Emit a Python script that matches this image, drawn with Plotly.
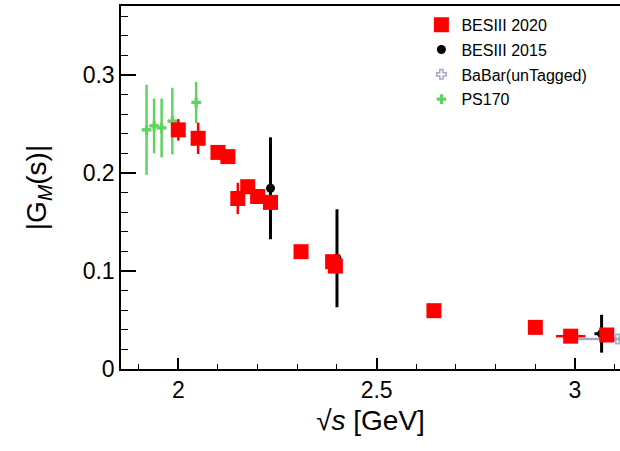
import plotly.graph_objects as go

# BESIII 2020
bes20_x = [2.0000, 2.0500, 2.1000, 2.1250, 2.1500, 2.1750, 2.2000, 2.2324, 2.3094, 2.3890, 2.3960, 2.6444, 2.9000, 2.9890, 3.0800]
bes20_y = [0.244, 0.2354, 0.221, 0.2167, 0.174, 0.186, 0.176, 0.170, 0.1197, 0.1095, 0.105, 0.0595, 0.0425, 0.0335, 0.0347]
bes20_ey = [0.011, 0.016, 0.006, 0.006, 0.016, 0.007, 0.006, 0.006, 0.005, 0.006, 0.006, 0.003, 0.003, 0.003, 0.003]
bes20_ex = [0, 0, 0, 0, 0, 0, 0, 0, 0, 0, 0, 0, 0, 0.037, 0]

# BESIII 2015
bes15_x = [2.2324, 2.4000, 3.0670]
bes15_y = [0.1844, 0.1130, 0.0360]
bes15_ey = [0.052, 0.050, 0.0193]
bes15_ex = [0, 0, 0.018]

# BaBar (untagged)
babar_x = [3.107]
babar_y = [0.0306]
babar_ex = [0.100]

# PS170
ps_x = [1.920, 1.939, 1.958, 1.985, 2.045]
ps_y = [0.244, 0.248, 0.246, 0.253, 0.272]
ps_ey = [0.046, 0.028, 0.030, 0.034, 0.021]
ps_ex = [0.010, 0.010, 0.010, 0.010, 0.010]

FONT = "Liberation Sans, Arial, sans-serif"

fig = go.Figure()

fig.add_trace(go.Scatter(
    x=ps_x, y=ps_y, mode="markers", name="PS170", legendrank=4,
    marker=dict(symbol="cross", size=8, color="#5fd35f", line=dict(width=0)),
    error_y=dict(type="data", array=ps_ey, color="#5fd35f", thickness=2.5, width=0),
    error_x=dict(type="data", array=ps_ex, color="#5fd35f", thickness=2.5, width=0),
))

fig.add_trace(go.Scatter(
    x=babar_x, y=babar_y, mode="markers", name="BaBar(unTagged)", legendrank=3,
    marker=dict(symbol="cross-open", size=8, color="#a6a6c4", line=dict(width=1.5, color="#a6a6c4")),
    error_x=dict(type="data", array=babar_ex, color="#a6a6c4", thickness=2.5, width=0),
))

fig.add_trace(go.Scatter(
    x=bes15_x, y=bes15_y, mode="markers", name="BESIII 2015", legendrank=2,
    marker=dict(symbol="circle", size=9, color="black"),
    error_y=dict(type="data", array=bes15_ey, color="black", thickness=3, width=0),
    error_x=dict(type="data", array=bes15_ex, color="black", thickness=3, width=0),
))

fig.add_trace(go.Scatter(
    x=bes20_x, y=bes20_y, mode="markers", name="BESIII 2020", legendrank=1,
    marker=dict(symbol="square", size=15, color="#ff0000", line=dict(width=0)),
    error_y=dict(type="data", array=bes20_ey, color="#ff0000", thickness=2.5, width=0),
    error_x=dict(type="data", array=bes20_ex, color="#ff0000", thickness=2.5, width=0),
))

fig.update_layout(
    width=620, height=451,
    margin=dict(l=121, r=0, t=6, b=82),
    paper_bgcolor="white", plot_bgcolor="white",
    font=dict(family=FONT, color="black"),
    showlegend=True,
    legend=dict(
        x=0.602, y=0.995, xanchor="left", yanchor="top",
        font=dict(family=FONT, size=16, color="black"),
        bgcolor="rgba(255,255,255,0)", borderwidth=0,
        tracegroupgap=1,
    ),
    xaxis=dict(
        range=[1.8556, 3.1134], showgrid=False, zeroline=False,
        showline=True, linecolor="black", linewidth=1.5, mirror=True,
        ticks="inside", ticklen=11, tickwidth=1.5, tickcolor="black",
        tick0=2.0, dtick=0.5,
        tickfont=dict(family=FONT, size=23),
        minor=dict(ticks="inside", ticklen=5, tickwidth=1.2, tickcolor="black", dtick=0.1, tick0=2.0, showgrid=False),
        title=dict(text="√<i>s</i> [GeV]", font=dict(family=FONT, size=28), standoff=8),
    ),
    yaxis=dict(
        range=[0, 0.3704], showgrid=False, zeroline=False,
        showline=True, linecolor="black", linewidth=1.5, mirror=False,
        ticks="inside", ticklen=15, tickwidth=1.5, tickcolor="black",
        tick0=0, dtick=0.1,
        tickfont=dict(family=FONT, size=23),
        minor=dict(ticks="inside", ticklen=7, tickwidth=1.2, tickcolor="black", dtick=0.02, tick0=0, showgrid=False),
        title=dict(text="|G<sub><i>M</i></sub>(s)|", font=dict(family=FONT, size=28), standoff=28),
    ),
)

# give each trace its own legend group so tracegroupgap spaces the entries
for i, tr in enumerate(fig.data):
    tr.legendgroup = f"g{i}"

fig.write_html("out.html")
